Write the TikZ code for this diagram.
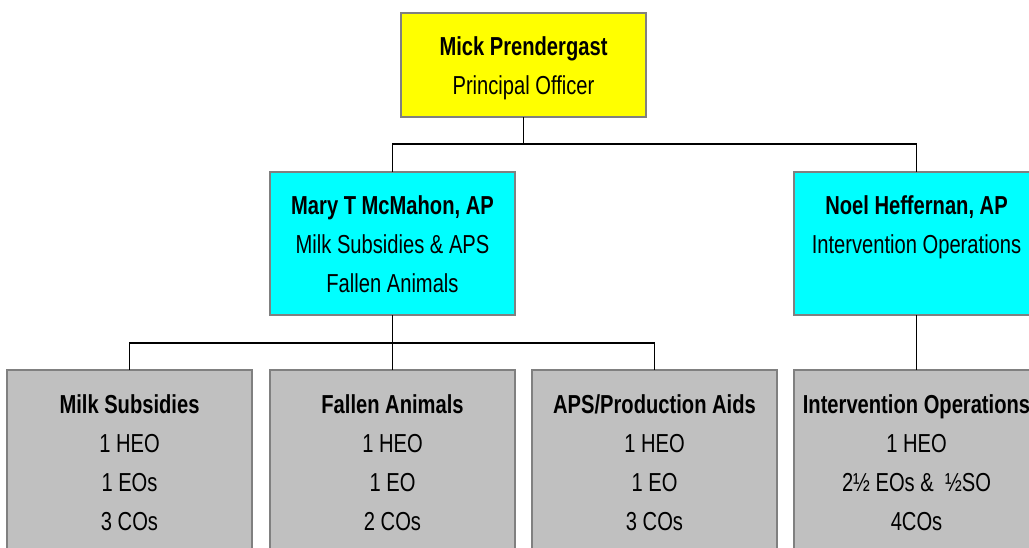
\documentclass[tikz,border=0pt]{standalone}
\usepackage{fontspec}
\setmainfont{Liberation Sans}[FakeStretch=0.775]
\usetikzlibrary{calc}
\definecolor{boxyellow}{HTML}{FFFF00}
\definecolor{boxcyan}{HTML}{00FFFF}
\definecolor{boxgray}{HTML}{C0C0C0}
\definecolor{edgegray}{HTML}{808080}
\begin{document}
\begin{tikzpicture}[x=1pt,y=-1pt,
  orgbox/.style={draw=edgegray, line width=1.5pt, anchor=north west,
    minimum width=245pt, inner sep=0pt, outer sep=0pt},
  toprow/.style={orgbox, fill=boxyellow, minimum height=104pt},
  midrow/.style={orgbox, fill=boxcyan, minimum height=143pt},
  lowrow/.style={orgbox, fill=boxgray, minimum height=240pt},
  boxtext/.style={anchor=base, inner sep=0pt, text width=240pt, align=center,
    font=\fontsize{26}{39.3}\selectfont,
    execute at begin node={\spaceskip=5.6pt\xspaceskip=5.6pt\relax}},
  conn/.style={draw=black, line width=1.5pt}]
\useasboundingbox (0,0) rectangle (1029,547);
\clip (0,0) rectangle (1029,547);
\fill[white] (0,0) rectangle (1029,547);

% boxes
\node[toprow] (mick) at (401,13) {};
\node[midrow] (mary) at (270,172) {};
\node[midrow] (noel) at (794,172) {};
\node[lowrow] (milk) at (7,370) {};
\node[lowrow] (fallen) at (270,370) {};
\node[lowrow] (aps) at (532,370) {};
\node[lowrow] (interv) at (794,370) {};

% texts
\node[boxtext] (mick-t) at ($(mick.north)+(0,42)$)
  {\textbf{Mick Prendergast}\\Principal Officer};
\node[boxtext] (mary-t) at ($(mary.north)+(0,42)$)
  {\textbf{Mary T McMahon, AP}\\Milk Subsidies \& APS\\Fallen Animals};
\node[boxtext] (noel-t) at ($(noel.north)+(0,42)$)
  {\textbf{Noel Heffernan, AP}\\Intervention Operations};
\node[boxtext] (milk-t) at ($(milk.north)+(0,43)$)
  {\textbf{Milk Subsidies}\\1 HEO\\1 EOs\\3 COs};
\node[boxtext] (fallen-t) at ($(fallen.north)+(0,43)$)
  {\textbf{Fallen Animals}\\1 HEO\\1 EO\\2 COs};
\node[boxtext] (aps-t) at ($(aps.north)+(0,43)$)
  {\textbf{APS/Production Aids}\\1 HEO\\1 EO\\3 COs};
\node[boxtext] (interv-t) at ($(interv.north)+(0,43)$)
  {\textbf{Intervention Operations}\\1 HEO\\2½ EOs \&\ \ ½SO\\4COs};

% connectors
\coordinate (bus1) at (0,144);
\coordinate (bus2) at (0,343);
\draw[conn] (mick.south) -- (mick.south |- bus1) -| (mary.north);
\draw[conn] (mick.south |- bus1) -| (noel.north);
\draw[conn] (mary.south) -- (fallen.north);
\draw[conn] (mary.south |- bus2) -| (milk.north);
\draw[conn] (mary.south |- bus2) -| (aps.north);
\draw[conn] (noel.south) -- (interv.north);
\end{tikzpicture}
\end{document}
